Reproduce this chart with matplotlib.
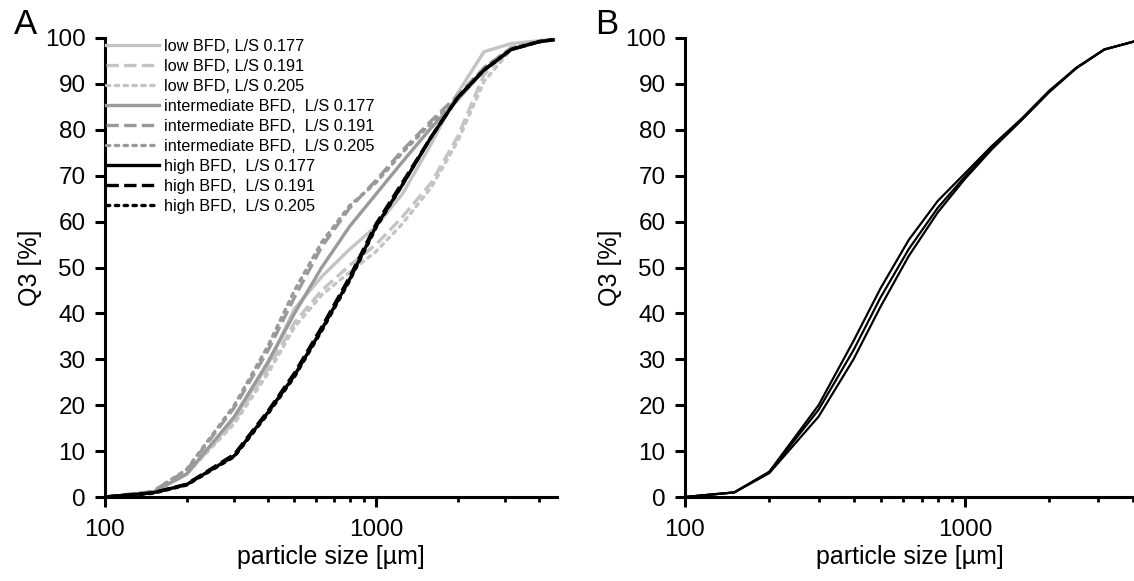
import matplotlib
matplotlib.use('Agg')
import matplotlib.pyplot as plt
from matplotlib.ticker import LogLocator, FixedLocator, NullFormatter, FixedFormatter

plt.rcParams['font.family'] = ['Liberation Sans', 'DejaVu Sans']

# sieve sizes [um]
sizes = [100, 150, 200, 300, 400, 500, 630, 800, 1000, 1250, 1600, 2000, 2500, 3150, 4000, 4500]

# panel A, Q3 [%]
low_177 = [0, 1, 5, 17, 29, 41, 48, 54, 59, 66, 77, 88, 97, 98.8, 99.4, 99.6]
low_191 = [0, 1, 5, 16.5, 28, 38, 45, 50.5, 55, 61, 68.5, 78.5, 92, 98, 99.4, 99.6]
low_205 = [0, 1, 5, 16, 27, 37, 44, 49, 53.5, 59.5, 67.5, 77.5, 90.5, 97.5, 99.3, 99.6]
int_177 = [0, 1, 5, 17.5, 29.5, 40, 50, 59, 66, 73, 80.5, 86.5, 93, 97.5, 99.2, 99.6]
int_191 = [0, 1.2, 5.8, 19.5, 32, 43.5, 54.5, 63, 69, 75.5, 82, 87.5, 93.5, 97.8, 99.3, 99.6]
int_205 = [0, 1.2, 6, 20, 33, 45, 55.5, 63.5, 68.5, 75, 81.5, 87, 93.5, 97.8, 99.3, 99.6]
high_177 = [0, 0.9, 2.7, 9, 18.5, 26.5, 36.5, 47.5, 59, 68, 78.5, 87, 93, 97.5, 99.2, 99.6]
high_191 = [0, 0.9, 2.8, 9.3, 18.8, 27, 37, 48, 59.5, 68.5, 78.5, 87, 93, 97.5, 99.2, 99.6]
high_205 = [0, 0.8, 2.6, 8.8, 18.2, 26.2, 36.2, 47.2, 58.7, 68, 78.5, 87, 93, 97.5, 99.2, 99.6]

# panel B
sizes_b = [100, 150, 200, 300, 400, 500, 630, 800, 1000, 1250, 1600, 2000, 2500, 3150, 4000]
b_1 = [0, 1, 5.5, 20, 34, 45.5, 56, 64.5, 70.5, 76.5, 82.5, 88.5, 93.5, 97.5, 99.2]
b_2 = [0, 1, 5.4, 19, 32, 43.5, 54, 63, 69.8, 76, 82.3, 88.3, 93.5, 97.5, 99.2]
b_3 = [0, 1, 5.2, 17.5, 30, 41.5, 52.5, 62, 69.3, 75.8, 82.2, 88.2, 93.4, 97.5, 99.2]

light = '#c4c4c4'
mid = '#9a9a9a'

fig = plt.figure(figsize=(11.34, 5.81), dpi=100)
axA = fig.add_axes([105/1134, 1-497/581, (557-105)/1134, (497-38)/581])
axB = fig.add_axes([685/1134, 1-497/581, (1134-685)/1134, (497-38)/581])

series = [
    (low_177, light, '-', 'low BFD, L/S 0.177'),
    (low_191, light, '--', 'low BFD, L/S 0.191'),
    (low_205, light, ':', 'low BFD, L/S 0.205'),
    (int_177, mid, '-', 'intermediate BFD,  L/S 0.177'),
    (int_191, mid, '--', 'intermediate BFD,  L/S 0.191'),
    (int_205, mid, ':', 'intermediate BFD,  L/S 0.205'),
    (high_177, 'black', '-', 'high BFD,  L/S 0.177'),
    (high_191, 'black', '--', 'high BFD,  L/S 0.191'),
    (high_205, 'black', ':', 'high BFD,  L/S 0.205'),
]
for vals, col, ls, lab in series:
    axA.plot(sizes, vals, color=col, ls=ls, lw=2.4, label=lab,
             dash_capstyle='round' if ls == ':' else 'butt')

for vals in [b_1, b_2, b_3]:
    axB.plot(sizes_b, vals, color='black', lw=1.6)

leg = axA.legend(loc='upper left', bbox_to_anchor=(0.0, 1.0), frameon=False,
                 fontsize=11.7, handlelength=3.3, handletextpad=0.3,
                 labelspacing=0.31, borderaxespad=0, borderpad=0.05)

for ax, xmax in [(axA, 4650), (axB, 4020)]:
    ax.set_xscale('log')
    ax.set_xlim(100, xmax)
    ax.set_ylim(0, 100)
    ax.set_yticks(range(0, 101, 10))
    ax.xaxis.set_major_locator(FixedLocator([100, 1000]))
    ax.xaxis.set_major_formatter(FixedFormatter(['100', '1000']))
    ax.xaxis.set_minor_locator(LogLocator(base=10, subs=range(2, 10)))
    ax.xaxis.set_minor_formatter(NullFormatter())
    for s in ['top', 'right']:
        ax.spines[s].set_visible(False)
    for s in ['left', 'bottom']:
        ax.spines[s].set_linewidth(2.2)
    ax.tick_params(which='major', direction='out', length=7, width=2.2, labelsize=17.5)
    ax.tick_params(which='minor', direction='out', length=3.5, width=2)
    ax.tick_params(axis='x', which='major', pad=9)
    ax.tick_params(axis='y', which='major', pad=7)
    ax.set_xlabel('particle size [µm]', fontsize=18, labelpad=3)
    ax.set_ylabel('Q3 [%]', fontsize=18, labelpad=2)

fig.text(25/1134, 1-24/581, 'A', fontsize=25, ha='center', va='center')
fig.text(607/1134, 1-24/581, 'B', fontsize=25, ha='center', va='center')

fig.savefig('out.png', dpi=100)
